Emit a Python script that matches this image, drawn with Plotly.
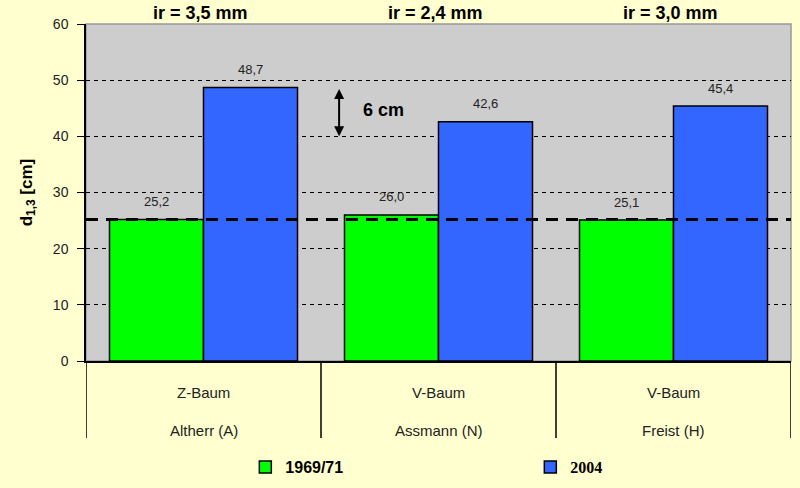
import plotly.graph_objects as go

categories = ["Z-Baum|Altherr (A)", "V-Baum|Assmann (N)", "V-Baum|Freist (H)"]
cat_line1 = ["Z-Baum", "V-Baum", "V-Baum"]
cat_line2 = ["Altherr (A)", "Assmann (N)", "Freist (H)"]
group_titles = ["ir = 3,5 mm", "ir = 2,4 mm", "ir = 3,0 mm"]
series_names = ["1969/71", "2004"]
values_1969 = [25.2, 26.0, 25.1]
values_2004 = [48.7, 42.6, 45.4]
ref_line_value = 25.2
arrow_top, arrow_bottom = 48.7, 40.0
arrow_label = "6 cm"
y_ticks = [0, 10, 20, 30, 40, 50, 60]

GREEN = "#00FF00"
BLUE = "#3366FF"
PAPER = "#FFFFD0"
FONT = "Liberation Sans, Arial, sans-serif"

def fmt(v):
    return f"{v:.1f}".replace(".", ",")

fig = go.Figure()
x_idx = list(range(len(categories)))
fig.add_trace(go.Bar(x=x_idx, y=values_1969, name=series_names[0],
                     marker=dict(color=GREEN, line=dict(color="black", width=1.5))))
fig.add_trace(go.Bar(x=x_idx, y=values_2004,
                     name="<span style=\"font-family:'Liberation Serif', serif\">" + series_names[1] + "</span>",
                     marker=dict(color=BLUE, line=dict(color="black", width=1.5))))

annotations = []
for i, v in enumerate(values_1969):
    annotations.append(dict(x=i - 0.2, y=v, xref="x", yref="y", text=fmt(v), showarrow=False,
                            yshift=18, font=dict(size=13, color="#222", family=FONT)))
for i, v in enumerate(values_2004):
    annotations.append(dict(x=i + 0.2, y=v, xref="x", yref="y", text=fmt(v), showarrow=False,
                            yshift=18, font=dict(size=13, color="#222", family=FONT)))
for i in x_idx:
    annotations.append(dict(x=i, y=-0.092, xref="x", yref="paper", yanchor="middle", text=cat_line1[i],
                            showarrow=False, font=dict(size=15, color="#222", family=FONT)))
    annotations.append(dict(x=i, y=-0.205, xref="x", yref="paper", yanchor="middle", text=cat_line2[i],
                            showarrow=False, font=dict(size=15, color="#222", family=FONT)))
    annotations.append(dict(x=i, y=1, yshift=11, xshift=-3, xref="x", yref="paper", yanchor="middle",
                            text="<b>" + group_titles[i] + "</b>",
                            showarrow=False, font=dict(size=18, color="black", family=FONT)))
annotations.append(dict(x=0.577, y=arrow_bottom, ax=0.577, ay=arrow_top, xref="x", yref="y",
                        axref="x", ayref="y", text="", showarrow=True, arrowhead=2, arrowsize=1,
                        arrowwidth=2, arrowside="end+start", arrowcolor="black"))
annotations.append(dict(x=0.764, y=44.7, xref="x", yref="y", text="<b>" + arrow_label + "</b>",
                        showarrow=False, font=dict(size=18, color="black", family=FONT)))

shapes = [
    dict(type="rect", xref="paper", yref="paper", x0=0, x1=1, y0=0, y1=1,
         line=dict(color="#999999", width=1.5), layer="below"),
    dict(type="line", xref="paper", yref="y", x0=0, x1=1, y0=ref_line_value, y1=ref_line_value,
         line=dict(color="black", width=3, dash="12px,8px")),
]
for b in [-0.5, 0.5, 1.5, 2.5]:
    shapes.append(dict(type="line", xref="x", yref="paper", x0=b, x1=b, y0=0, y1=-0.2285,
                       line=dict(color="black", width=1.5)))

fig.update_layout(
    width=800, height=488,
    margin=dict(l=86, r=9, t=24, b=127, autoexpand=False),
    paper_bgcolor=PAPER,
    plot_bgcolor="#CDCDCD",
    barmode="group", bargap=0.2, bargroupgap=0,
    font=dict(family=FONT, size=13, color="black"),
    showlegend=True,
    legend=dict(orientation="h", x=0.226, xanchor="left", y=-0.315, yanchor="middle",
                bgcolor="rgba(0,0,0,0)", font=dict(size=16, color="black", family=FONT, weight="bold"),
                entrywidth=240, entrywidthmode="pixels", traceorder="normal"),
    annotations=annotations,
    shapes=shapes,
)
fig.update_xaxes(range=[-0.5, 2.5], showticklabels=False, showgrid=False, zeroline=False,
                 showline=True, linecolor="black", linewidth=1.5, ticks="")
fig.update_yaxes(range=[0, 60], tickvals=y_ticks, ticks="outside", ticklen=7, tickcolor="black",
                 showline=True, linecolor="black", linewidth=1.5, zeroline=False,
                 showgrid=True, gridcolor="black", gridwidth=1, griddash="4px,4px",
                 tickfont=dict(size=14, color="#222"), ticklabelstandoff=6,
                 title=dict(text="<b>d<sub>1,3</sub> [cm]</b>", font=dict(size=17, color="black"), standoff=16))
fig.write_html("out.html", config={"displayModeBar": False},
               post_script="document.body.style.margin='0';document.body.style.background='" + PAPER + "';")
